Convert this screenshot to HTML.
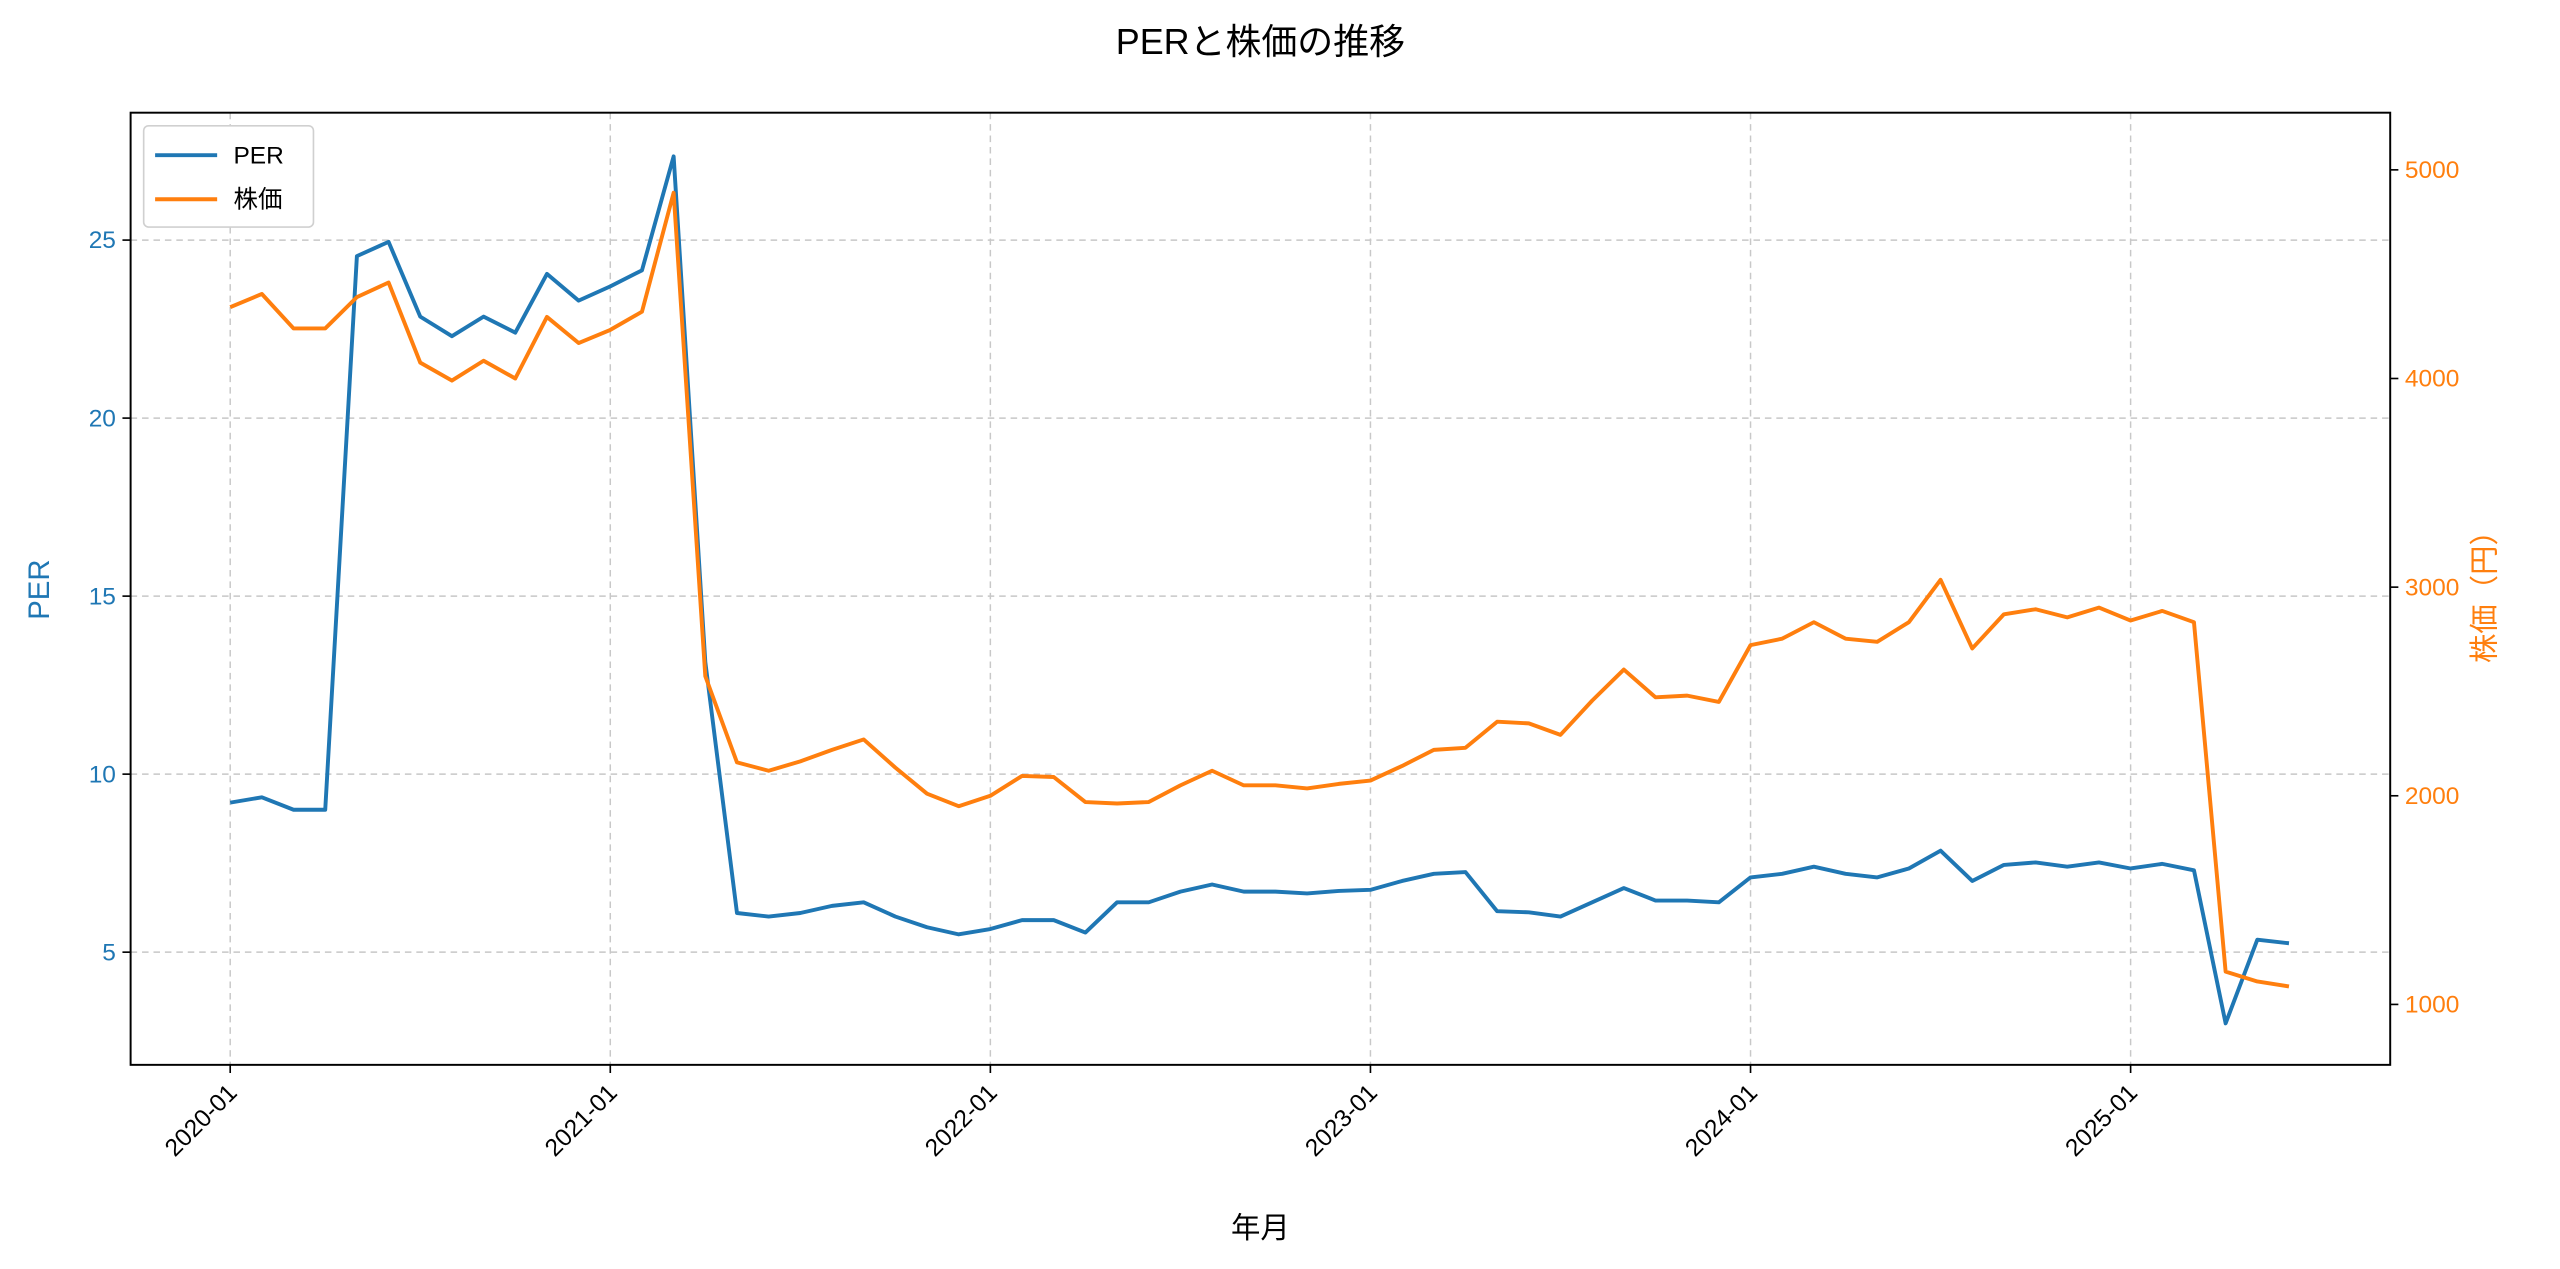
<!DOCTYPE html>
<html><head><meta charset="utf-8"><style>
body{margin:0;background:#fff}
svg{display:block;font-family:"Liberation Sans","Noto Sans CJK JP",sans-serif}
</style></head><body>
<svg id="c" width="2560" height="1269" viewBox="0 0 1568 777" preserveAspectRatio="none">
<text x="772" y="33" font-size="22" text-anchor="middle">PERと株価の推移</text>
</svg>
<script>
const months=[];for(let y=2020;y<=2025;y++)for(let m=1;m<=12;m++){if(y===2025&&m>6)break;months.push(y+'-'+String(m).padStart(2,'0'));}
const perValues=[9.2,9.35,9.0,9.0,24.55,24.95,22.85,22.3,22.85,22.4,24.05,23.3,23.7,24.15,27.35,13.15,6.1,6.0,6.1,6.3,6.4,6.0,5.7,5.5,5.65,5.9,5.9,5.55,6.4,6.4,6.7,6.9,6.7,6.7,6.65,6.72,6.75,7.0,7.2,7.25,6.15,6.12,6.0,6.4,6.8,6.45,6.45,6.4,7.1,7.2,7.4,7.2,7.1,7.35,7.85,7.0,7.45,7.52,7.4,7.52,7.35,7.48,7.3,3.0,5.35,5.25];
const priceValues=[4342,4405,4240,4240,4390,4460,4076,3990,4085,4000,4295,4170,4233,4320,4890,2573,2160,2120,2165,2220,2270,2135,2010,1950,2000,2095,2090,1970,1963,1970,2050,2120,2050,2050,2035,2057,2073,2143,2220,2230,2355,2347,2292,2456,2605,2472,2480,2450,2722,2753,2832,2753,2738,2832,3035,2706,2870,2894,2855,2902,2840,2886,2832,1157,1110,1086];
const xTicks=['2020-01','2021-01','2022-01','2023-01','2024-01','2025-01'];
const perTicks=[5,10,15,20,25];
const priceTicks=[1000,2000,3000,4000,5000];
const L=80,R=1464,T=69,B=652;
const X=i=>141+i*(1305-141)/60;
const Y1=v=>583-(v-5)*(583-147)/20;
const Y2=v=>615-(v-1000)*(615-104)/4000;
const svg=document.getElementById('c');const NS='http://www.w3.org/2000/svg';
function mk(t,a,txt){const e=document.createElementNS(NS,t);for(const k in a)e.setAttribute(k,a[k]);if(txt!==undefined)e.textContent=txt;svg.appendChild(e);return e;}
xTicks.forEach(t=>{const i=months.indexOf(t),x=X(i);
const g=mk('line',{x1:x,x2:x,y1:T,y2:B,stroke:'#c8c8c8','stroke-dasharray':'4,3','stroke-width':0.9});


mk('line',{x1:x,x2:x,y1:B,y2:B+5,stroke:'#000','stroke-width':1});
const lb=mk('text',{x:0,y:0,'font-size':15,'text-anchor':'end',transform:`translate(${x+5},${B+18}) rotate(-45)`},t);

});
perTicks.forEach(v=>{const y=Y1(v);
const g=mk('line',{x1:L,x2:R,y1:y,y2:y,stroke:'#c8c8c8','stroke-dasharray':'4,3','stroke-width':0.9});


mk('line',{x1:L-5,x2:L,y1:y,y2:y,stroke:'#000','stroke-width':1});
const lb=mk('text',{x:L-9,y:y+5,'font-size':15,'text-anchor':'end',fill:'#1f77b4'},v);

});
priceTicks.forEach(v=>{const y=Y2(v);
mk('line',{x1:R,x2:R+5,y1:y,y2:y,stroke:'#000','stroke-width':1});
const lb=mk('text',{x:R+9,y:y+5,'font-size':15,fill:'#ff7f0e'},v);

});
const p1=mk('polyline',{points:perValues.map((v,i)=>X(i)+','+Y1(v)).join(' '),fill:'none',stroke:'#1f77b4','stroke-width':2.4,'stroke-linejoin':'round'});


const p2=mk('polyline',{points:priceValues.map((v,i)=>X(i)+','+Y2(v)).join(' '),fill:'none',stroke:'#ff7f0e','stroke-width':2.4,'stroke-linejoin':'round'});


const fr=mk('rect',{x:L,y:T,width:R-L,height:B-T,fill:'none',stroke:'#000','stroke-width':1.2});


const xl=mk('text',{x:772,y:758,'font-size':18,'text-anchor':'middle'},'年月');


const yl=mk('text',{x:0,y:0,'font-size':18,'text-anchor':'middle',fill:'#1f77b4',transform:'translate(30,361) rotate(-90)'},'PER');


const yr=mk('text',{x:0,y:0,'font-size':18,'text-anchor':'middle',fill:'#ff7f0e',transform:'translate(1528,361) rotate(-90)'},'株価（円）');


const lg=mk('rect',{x:88,y:77,width:104,height:62,fill:'#fff',stroke:'#d0d0d0',rx:3});


[['PER','#1f77b4',95],['株価','#ff7f0e',122]].forEach(([n,c,y])=>{
mk('line',{x1:95,x2:133,y1:y,y2:y,stroke:c,'stroke-width':2.4});
const t=mk('text',{x:143,y:y+5,'font-size':15},n);

});
</script>
</body></html>
